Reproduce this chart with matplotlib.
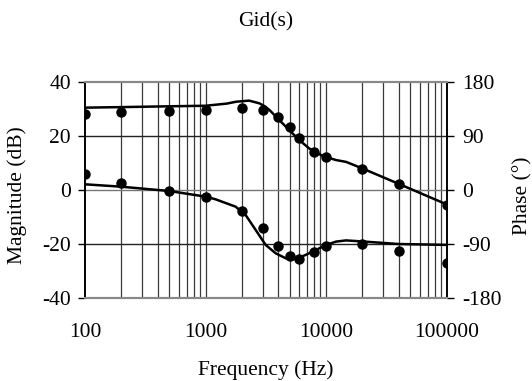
import matplotlib
matplotlib.use("Agg")
import matplotlib.pyplot as plt
from matplotlib.ticker import FixedLocator, NullFormatter, FixedFormatter

plt.rcParams['font.family'] = ['Liberation Serif', 'DejaVu Serif']
plt.rcParams['axes.unicode_minus'] = False
plt.rcParams['font.size'] = 15.5

# measured points
freq_pts = [100, 200, 500, 1000, 2000, 3000, 4000, 5000, 6000, 8000, 10000, 20000, 40000, 100000]
mag_pts = [28.0, 29.0, 29.4, 29.6, 30.2, 29.6, 26.9, 23.4, 19.1, 14.2, 12.1, 7.7, 2.2, -5.6]
phase_pts = [26, 11, -2, -12, -35, -64, -94, -110, -115, -103, -94, -90, -101, -121]

# model curves
mag_f = [100, 200, 500, 1000, 1500, 1800, 2300, 2800, 3100, 3400, 4100, 4950,
         6000, 7250, 9400, 12100, 14700, 20000, 40000, 100000]
mag_curve = [30.5, 30.7, 31.0, 31.2, 32.0, 32.7, 33.1, 32.1, 31.0, 29.6, 25.9, 22.2,
             18.5, 15.4, 12.6, 11.1, 10.4, 8.0, 2.3, -5.3]
ph_f = [100, 200, 500, 1000, 1212, 1778, 2154, 2610, 3162, 3831, 4642, 5623,
        6813, 8254, 10000, 12115, 14678, 20850, 39800, 100000]
ph_curve = [9.5, 5.5, -1.7, -11, -15.5, -27.8, -41.7, -66.7, -91.7, -105.6, -113.9, -115,
            -108, -100, -91.7, -86, -84, -86, -90, -91.5]

fig = plt.figure(figsize=(5.32, 3.81), dpi=100)
ax = fig.add_axes([85 / 532, 1 - 298 / 381, (446.5 - 85) / 532, 216 / 381])
ax2 = ax.twinx()

ax.set_xscale('log')
ax.set_xlim(100, 100000)
ax.set_ylim(-40, 40)
ax2.set_ylim(-180, 180)

# grid
minor = [m * 10 ** e for e in range(2, 5) for m in range(2, 10)]
for f in minor + [1000, 10000, 100000]:
    ax.axvline(f, color='#3a3a3a', lw=0.9, zorder=1)
for v in [-20, 0, 20]:
    ax.axhline(v, color='#222222' if v else '#777777', lw=1.0, zorder=1)

ax.plot(mag_f, mag_curve, color='black', lw=1.8, zorder=3)
ax.plot(freq_pts, mag_pts, 'o', color='black', ms=6.5, zorder=4)
ax2.plot(ph_f, ph_curve, color='black', lw=1.8, zorder=3)
ax2.plot(freq_pts, phase_pts, 'o', color='black', ms=6.5, zorder=4)

ax.xaxis.set_major_locator(FixedLocator([100, 1000, 10000, 100000]))
ax.xaxis.set_major_formatter(FixedFormatter(['100', '1000', '10000', '100000']))
ax.xaxis.set_minor_formatter(NullFormatter())
ax.tick_params(axis='x', which='both', length=0, pad=18)
ax.set_yticks([-40, -20, 0, 20, 40])
ax.tick_params(axis='y', length=5, width=1, pad=5, direction='out')
ax2.set_yticks([-180, -90, 0, 90, 180])
ax2.tick_params(axis='y', length=5, width=1, pad=6, direction='out')

for a in (ax, ax2):
    a.spines['top'].set_color('#888888')
    a.spines['bottom'].set_color('#888888')
    a.spines['top'].set_linewidth(1.5)
    a.spines['bottom'].set_linewidth(1.5)
    a.spines['left'].set_linewidth(1.2)
    a.spines['right'].set_linewidth(1.2)

fig.text(266 / 532, 1 - 22 / 381, 'Gid(s)', ha='center', va='center')
fig.text(266 / 532, 1 - 370 / 381, 'Frequency (Hz)', ha='center', va='center')
fig.text(17 / 532, 1 - 195 / 381, 'Magnitude (dB)', ha='center', va='center', rotation=90)
fig.text(523 / 532, 1 - 196 / 381, 'Phase (°)', ha='center', va='center', rotation=90)

fig.savefig('out.png', dpi=100)
